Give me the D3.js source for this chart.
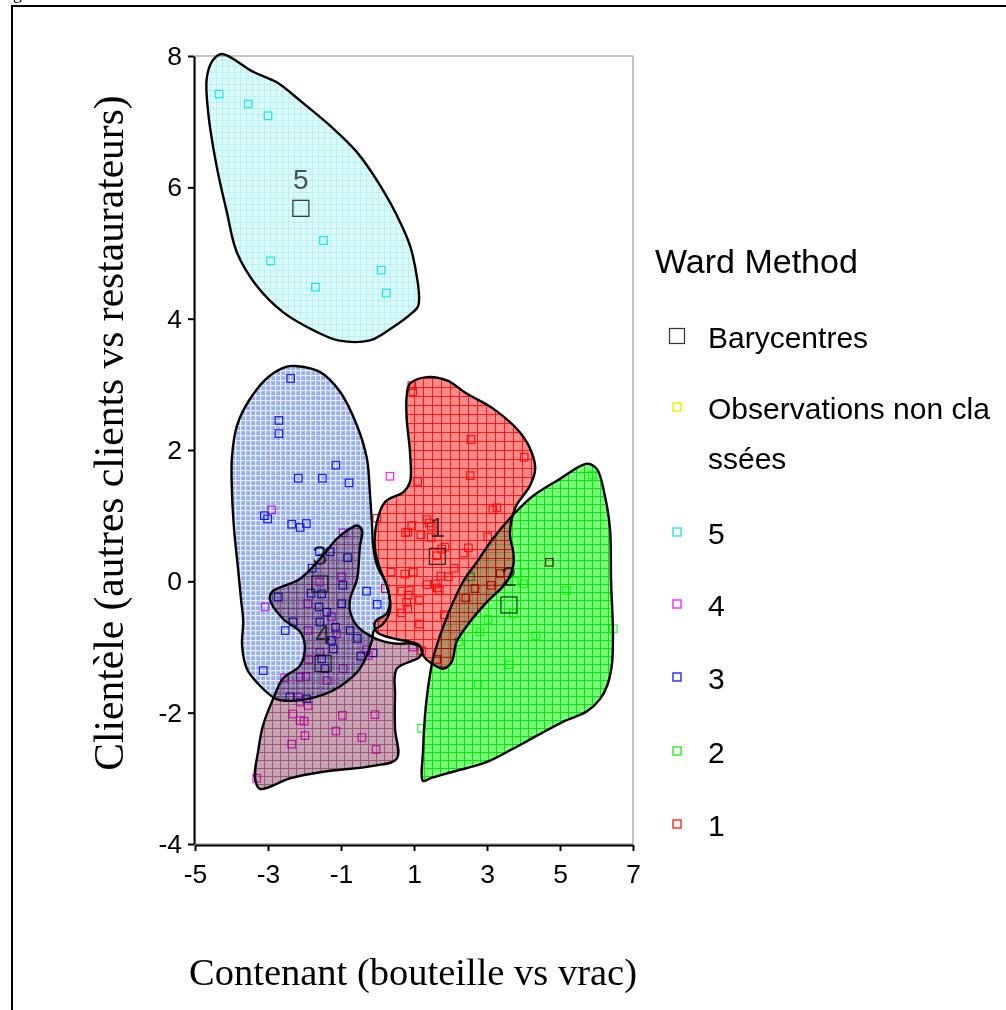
<!DOCTYPE html>
<html>
<head>
<meta charset="utf-8">
<script src="https://cdn.jsdelivr.net/npm/d3@7"></script>
<style>
  html, body { margin: 0; padding: 0; background: #fff; }
  svg { display: block; }
</style>
</head>
<body>
<svg id="chart" width="1006" height="1010"></svg>
<script>
// ---- Axis ticks ----
const xTicks = [-5, -3, -1, 1, 3, 5, 7];
const xTickLabels = ["-5", "-3", "-1", "1", "3", "5", "7"];
const yTicks = [-4, -2, 0, 2, 4, 6, 8];
const yTickLabels = ["-4", "-2", "0", "2", "4", "6", "8"];

// ---- Observations per cluster (Contenant, Clientèle) ----
const obs5 = [[-4.34,7.42],[-3.54,7.27],[-3.00,7.09],[-1.48,5.19],[-2.93,4.88],[-1.70,4.48],[0.10,4.74],[0.24,4.39]];

const obs4 = [[0.34,1.60],[-2.90,1.09],[-0.94,0.74],[-0.98,0.07],[-1.59,-0.01],[-3.08,-0.39],[-1.91,-0.34],
  [-1.90,-0.75],[-1.26,-0.54],[-1.12,-0.80],[-1.58,-1.08],[-1.88,-1.19],[-0.94,-1.33],[-1.38,-1.51],
  [-0.30,-1.04],[-0.25,-1.13],[-2.55,-1.47],[-2.12,-1.46],[-1.96,-1.45],[-2.17,-1.76],[-2.12,-1.84],
  [-1.90,-1.89],[-2.32,-2.02],[-2.12,-2.12],[-2.01,-2.13],[-0.96,-2.04],[-0.07,-2.03],[-1.99,-2.35],
  [-1.14,-2.28],[-0.43,-2.38],[-2.35,-2.48],[-0.04,-2.56],[-3.31,-3.00],[0.97,-1.00]];

const obs3 = [[-2.38,3.09],[-2.70,2.45],[-2.70,2.25],[-1.14,1.77],[-2.17,1.57],[-1.51,1.57],[-0.78,1.50],
  [-3.10,1.00],[-3.01,0.95],[-2.35,0.87],[-2.12,0.82],[-1.95,0.88],[-1.59,0.45],[-1.30,0.45],[-0.82,0.36],
  [-1.79,0.20],[-0.30,-0.15],[-0.01,-0.35],[-1.82,-0.18],[-1.53,-0.19],[-2.72,-0.24],[-1.60,-0.39],
  [-1.39,-0.47],[-0.98,-0.34],[-2.53,-0.75],[-2.31,-0.62],[-1.58,-0.62],[-1.15,-0.70],[-0.75,-0.75],
  [-0.55,-0.87],[-1.26,-0.90],[-1.21,-1.03],[-1.53,-1.18],[-1.44,-1.33],[-0.46,-1.14],[-0.12,-1.09],
  [-3.13,-1.36],[-2.40,-1.76],[-0.95,-0.06],[-1.94,-1.79]];

const obs2 = [[5.89,1.62],[2.55,0.07],[4.04,0.13],[4.01,-0.04],[3.75,0.00],[5.18,-0.14],[3.72,-0.49],
  [3.03,-0.58],[2.81,-0.77],[2.23,-0.92],[4.34,-0.83],[3.61,-1.27],[2.76,-1.57],[6.46,-0.72],[1.21,-2.24]];

const obs1 = [[0.94,2.98],[0.97,2.89],[2.56,2.16],[4.02,1.89],[2.54,1.61],[1.10,1.52],[-0.02,0.96],
  [3.16,1.09],[3.27,1.12],[1.35,0.94],[1.42,0.89],[1.47,0.84],[0.94,0.85],[0.77,0.74],[0.83,0.75],
  [1.19,0.71],[1.47,0.67],[3.02,0.68],[1.85,0.52],[1.76,0.49],[2.49,0.51],[2.35,0.43],[1.62,0.39],
  [2.10,0.20],[1.94,0.07],[1.74,0.08],[0.37,0.14],[0.75,0.11],[0.98,0.14],[1.35,-0.05],[1.58,-0.04],
  [1.64,-0.10],[1.69,-0.14],[0.87,-0.14],[0.66,-0.15],[0.84,-0.21],[1.15,-0.29],[0.80,-0.32],
  [0.83,-0.42],[0.66,-0.48],[1.83,-0.51],[1.15,-0.65],[1.21,-1.06],[1.62,-1.19],[0.21,-0.11],
  [3.11,-0.06],[2.67,-0.11],[2.42,-0.25],[3.36,0.12],[4.71,0.29]];

// ---- Cluster outlines ----
const hull5 = [[-4.27,8.03],[-3.41,7.76],[-2.76,7.60],[-2.12,7.32],[-1.30,6.94],[-0.57,6.54],[0.07,6.03],
  [0.62,5.47],[0.94,5.02],[1.12,4.20],[0.97,4.10],[0.34,3.84],[-0.21,3.67],[-1.08,3.67],[-1.67,3.80],
  [-2.59,4.10],[-3.31,4.50],[-3.86,5.02],[-4.13,5.63],[-4.41,6.33],[-4.64,7.15],[-4.68,7.65],[-4.54,7.91]];

const hull3 = [[-2.26,3.28],[-1.58,3.19],[-1.03,2.89],[-0.56,2.37],[-0.29,1.87],[-0.21,1.36],[-0.15,0.85],
  [-0.12,0.54],[-0.01,0.24],[0.26,-0.07],[0.34,-0.45],[0.15,-0.65],[-0.10,-0.75],[-0.15,-0.90],
  [-0.48,-1.33],[-1.03,-1.60],[-1.68,-1.76],[-2.40,-1.82],[-2.78,-1.79],[-3.22,-1.59],[-3.58,-1.33],
  [-3.71,-0.98],[-3.68,-0.61],[-3.74,-0.27],[-3.82,0.19],[-3.93,0.80],[-3.99,1.41],[-3.99,1.87],
  [-3.85,2.37],[-3.49,2.78],[-2.95,3.13],[-2.48,3.27]];

const hull4 = [[-0.56,0.85],[-0.42,0.77],[-0.48,0.54],[-0.56,0.04],[-0.75,-0.27],[-0.75,-0.46],[-0.56,-0.68],
  [-0.29,-0.80],[0.07,-0.90],[0.53,-0.95],[0.97,-0.95],[1.22,-1.03],[1.16,-1.15],[0.53,-1.33],[0.48,-1.74],
  [0.48,-2.24],[0.53,-2.70],[-0.12,-2.81],[-1.49,-2.90],[-2.40,-3.00],[-3.22,-3.16],[-3.36,-3.00],
  [-3.27,-2.59],[-3.14,-2.20],[-2.86,-1.79],[-2.59,-1.48],[-2.12,-1.28],[-1.99,-0.98],[-2.12,-0.77],
  [-2.59,-0.57],[-2.95,-0.27],[-2.89,-0.16],[-2.12,0.04],[-1.58,0.34],[-1.11,0.65],[-0.67,0.83]];

const hull1 = [[0.89,3.01],[1.35,3.11],[1.90,3.06],[2.44,2.86],[3.17,2.63],[3.90,2.27],[4.22,1.97],
  [4.32,1.71],[4.18,1.46],[3.81,1.16],[3.68,0.95],[3.63,0.70],[3.72,0.45],[3.72,0.24],[3.54,-0.01],
  [2.99,-0.32],[2.53,-0.62],[2.17,-0.92],[2.03,-1.23],[1.80,-1.33],[1.48,-1.25],[1.25,-1.13],[1.16,-0.98],
  [0.89,-0.92],[0.43,-0.87],[-0.02,-0.77],[-0.07,-0.62],[0.25,-0.49],[0.34,-0.32],[0.25,-0.06],
  [0.07,0.19],[-0.07,0.50],[-0.02,0.90],[0.21,1.21],[0.71,1.36],[0.89,1.51],[0.89,1.97],[0.80,2.47],[0.80,2.83]];

const hull2 = [[5.74,1.79],[6.01,1.71],[6.23,1.30],[6.37,0.80],[6.40,-0.01],[6.45,-0.77],[6.42,-1.28],
  [6.29,-1.59],[6.10,-1.79],[5.74,-1.98],[5.08,-2.14],[4.37,-2.35],[3.71,-2.55],[3.00,-2.75],[2.07,-2.90],
  [1.44,-3.00],[1.25,-3.04],[1.25,-2.55],[1.30,-2.05],[1.38,-1.64],[1.52,-1.18],[1.71,-0.83],[1.99,-0.42],
  [2.34,-0.01],[2.73,0.30],[3.16,0.65],[3.66,0.98],[4.26,1.30],[5.00,1.56]];

// ---- Cluster barycentres ----
const clusterIds = ["1", "2", "3", "4", "5"];
const centroidX = [1.64, 3.60, -1.58, -1.49, -2.10];
const centroidY = [0.38, -0.36, -0.04, -1.25, 5.68];

// ---- Legend ----
const legendTitle = "Ward Method";
const legendLabels = [["Barycentres"], ["Observations non cla", "ssées"], ["5"], ["4"], ["3"], ["2"], ["1"]];
const legendColors = ["#333333", "#f0f000", "#30e8e8", "#ff30ff", "#3030ff", "#30f030", "#ff3030"];

// ---- Scales ----
const svg = d3.select("#chart");
const x = d3.scaleLinear().domain([-5, 7]).range([195, 633]);
const y = d3.scaleLinear().domain([-4, 8]).range([844, 56]);

svg.append("rect").attr("width", 1006).attr("height", 1010).attr("fill", "#fff");

// Page frame and the clipped caption above it
svg.append("text").attr("x", 13).attr("y", -1)
  .attr("font-family", "'Liberation Serif', serif").attr("font-size", 18).text("g");
svg.append("rect").attr("x", 12).attr("y", 6).attr("width", 1010).attr("height", 1020)
  .attr("fill", "none").attr("stroke", "#000").attr("stroke-width", 2);

// ---- Fill patterns for the cluster regions ----
const defs = svg.append("defs");
function gridPattern(id, base, line, step, lw) {
  const p = defs.append("pattern").attr("id", id)
    .attr("patternUnits", "userSpaceOnUse").attr("width", step).attr("height", step);
  p.append("rect").attr("width", step).attr("height", step).attr("fill", base);
  p.append("path").attr("d", `M0,${lw/2}H${step}M${lw/2},0V${step}`)
    .attr("stroke", line).attr("stroke-width", lw).attr("fill", "none");
}
gridPattern("fill5", "#dcfafa", "#b8f2f2", 6, 1);
gridPattern("fill3", "#94aef0", "#e6ecff", 5, 1.3);
gridPattern("fill4", "#c7a2b2", "#9a5a78", 8, 1);
gridPattern("fill1", "#ff8a8a", "#ff1a1a", 9, 1);
gridPattern("fill2", "#78ff78", "#10e010", 8, 1);

// ---- Plot frame ----
svg.append("rect").attr("x", x(-5)).attr("y", y(8)).attr("width", x(7) - x(-5)).attr("height", y(-4) - y(8))
  .attr("fill", "none").attr("stroke", "#8a8a8a").attr("stroke-width", 1);

// ---- Cluster regions ----
const outline = d3.line().x(d => x(d[0])).y(d => y(d[1])).curve(d3.curveCatmullRomClosed.alpha(0.5));
const regions = [["fill5", hull5], ["fill3", hull3], ["fill4", hull4], ["fill2", hull2], ["fill1", hull1]];

const regionG = svg.append("g");
regionG.selectAll("path.region").data(regions).join("path")
  .attr("class", "region")
  .attr("d", d => outline(d[1]))
  .attr("fill", d => `url(#${d[0]})`)
  .style("mix-blend-mode", "multiply");
// cluster 1 tints what lies beneath it towards red
regionG.append("path").attr("d", outline(hull1))
  .attr("fill", "url(#fill1)").attr("opacity", 0.5);
regionG.selectAll("path.edge").data(regions).join("path")
  .attr("class", "edge")
  .attr("d", d => outline(d[1]))
  .attr("fill", "none").attr("stroke", "#000").attr("stroke-width", 2.4)
  .attr("stroke-linejoin", "round");

// ---- Observations ----
const groups = [[obs5, "#20f0f0"], [obs4, "#ff20ff"], [obs3, "#2020ff"], [obs2, "#20ff20"], [obs1, "#ff2020"]];
const side = 7.5;
const ptsG = svg.append("g").style("mix-blend-mode", "multiply");
groups.forEach(([pts, col]) => {
  ptsG.append("g").selectAll("rect").data(pts).join("rect")
    .attr("x", d => x(d[0]) - side / 2).attr("y", d => y(d[1]) - side / 2)
    .attr("width", side).attr("height", side)
    .attr("fill", "none").attr("stroke", col).attr("stroke-width", 1.2);
});

// ---- Barycentres with cluster numbers ----
const cenG = svg.append("g").style("mix-blend-mode", "multiply");
cenG.selectAll("rect").data(clusterIds).join("rect")
  .attr("x", (d, i) => x(centroidX[i]) - 8).attr("y", (d, i) => y(centroidY[i]) - 8)
  .attr("width", 16).attr("height", 16)
  .attr("fill", "none").attr("stroke", "#404040").attr("stroke-width", 1.3);
cenG.selectAll("text").data(clusterIds).join("text")
  .attr("x", (d, i) => x(centroidX[i])).attr("y", (d, i) => y(centroidY[i]) - 19)
  .attr("text-anchor", "middle")
  .attr("font-family", "'Liberation Sans', Arial, sans-serif").attr("font-size", 28)
  .attr("fill", "#555").text(d => d);

// ---- Axes ----
const tickFont = "'Liberation Sans', Arial, sans-serif";
const yAxis = svg.append("g").attr("transform", `translate(${x(-5) - 1},0)`)
  .call(d3.axisLeft(y).tickValues(yTicks).tickSize(6).tickPadding(6)
    .tickFormat((d, i) => yTickLabels[i]).tickSizeOuter(0));
const xAxis = svg.append("g").attr("transform", `translate(0,${y(-4) + 1})`)
  .call(d3.axisBottom(x).tickValues(xTicks).tickSize(6).tickPadding(13)
    .tickFormat((d, i) => xTickLabels[i]).tickSizeOuter(0));
[yAxis, xAxis].forEach(a => {
  a.select(".domain").attr("stroke", "#000").attr("stroke-width", 2);
  a.selectAll(".tick line").attr("stroke", "#000").attr("stroke-width", 2);
  a.selectAll(".tick text").attr("font-family", tickFont).attr("font-size", 26.5).attr("fill", "#000");
});

// ---- Axis titles ----
svg.append("text")
  .attr("transform", `translate(123,433) rotate(-90)`)
  .attr("text-anchor", "middle")
  .attr("font-family", "'Liberation Serif', 'Times New Roman', serif").attr("font-size", 41.5)
  .text("Clientèle (autres clients vs restaurateurs)");
svg.append("text")
  .attr("x", 413).attr("y", 985).attr("text-anchor", "middle")
  .attr("font-family", "'Liberation Serif', 'Times New Roman', serif").attr("font-size", 38.5)
  .text("Contenant (bouteille vs vrac)");

// ---- Legend ----
const legG = svg.append("g").attr("font-family", "'Liberation Sans', Arial, sans-serif").attr("fill", "#000");
legG.append("text").attr("x", 655).attr("y", 273).attr("font-size", 34).text(legendTitle);
const legendRowY = [336, 407, 532, 604, 677, 751, 824];
legendLabels.forEach((lines, i) => {
  const cy = legendRowY[i];
  const s = i === 0 ? 15 : 8;
  legG.append("rect").attr("x", 677 - s / 2).attr("y", cy - s / 2).attr("width", s).attr("height", s)
    .attr("fill", "none").attr("stroke", legendColors[i]).attr("stroke-width", i === 0 ? 1.2 : 1.5);
  lines.forEach((t, j) => {
    legG.append("text").attr("x", 708).attr("y", cy + 12 + j * 50).attr("font-size", 30).text(t);
  });
});
</script>
</body>
</html>
